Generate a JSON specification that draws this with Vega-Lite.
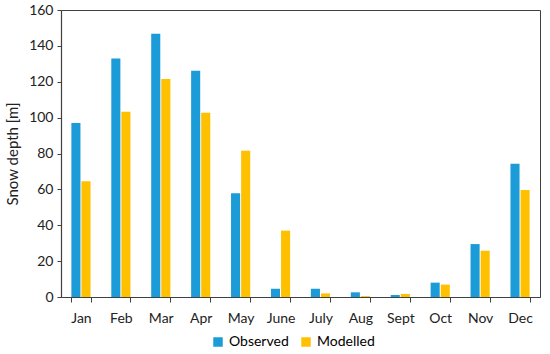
{
  "$schema": "https://vega.github.io/schema/vega-lite/v6.json",
  "width": 479,
  "height": 287,
  "autosize": {"type": "none"},
  "padding": {"left": 61, "top": 10, "right": 10, "bottom": 57},
  "background": "white",
  "config": {
    "font": "Lato",
    "view": {"stroke": "#404040", "strokeWidth": 1},
    "axis": {"labelFont": "Lato", "titleFont": "Lato", "labelColor": "#222", "titleColor": "#222", "domainColor": "#404040", "tickColor": "#404040"},
    "legend": {"labelFont": "Lato"}
  },
  "data": {
    "values": [
      {"month": "Jan", "series": "Observed", "value": 97},
      {"month": "Jan", "series": "Modelled", "value": 64.5},
      {"month": "Feb", "series": "Observed", "value": 133},
      {"month": "Feb", "series": "Modelled", "value": 103.3},
      {"month": "Mar", "series": "Observed", "value": 146.8},
      {"month": "Mar", "series": "Modelled", "value": 121.5},
      {"month": "Apr", "series": "Observed", "value": 126.1},
      {"month": "Apr", "series": "Modelled", "value": 102.7},
      {"month": "May", "series": "Observed", "value": 57.8},
      {"month": "May", "series": "Modelled", "value": 81.5},
      {"month": "June", "series": "Observed", "value": 4.6},
      {"month": "June", "series": "Modelled", "value": 37},
      {"month": "July", "series": "Observed", "value": 4.6},
      {"month": "July", "series": "Modelled", "value": 2},
      {"month": "Aug", "series": "Observed", "value": 2.6},
      {"month": "Aug", "series": "Modelled", "value": 0.5},
      {"month": "Sept", "series": "Observed", "value": 1.1},
      {"month": "Sept", "series": "Modelled", "value": 1.7},
      {"month": "Oct", "series": "Observed", "value": 8},
      {"month": "Oct", "series": "Modelled", "value": 6.9},
      {"month": "Nov", "series": "Observed", "value": 29.5},
      {"month": "Nov", "series": "Modelled", "value": 25.8},
      {"month": "Dec", "series": "Observed", "value": 74.3},
      {"month": "Dec", "series": "Modelled", "value": 59.6}
    ]
  },
  "mark": {"type": "bar"},
  "encoding": {
    "x": {
      "field": "month", "type": "nominal",
      "sort": ["Jan","Feb","Mar","Apr","May","June","July","Aug","Sept","Oct","Nov","Dec"],
      "scale": {"paddingInner": 0.52, "paddingOuter": 0.26},
      "axis": {"title": null, "labelAngle": 0, "labelFontSize": 14, "labelPadding": 9, "tickBand": "extent", "tickSize": 5, "domainWidth": 1.2}
    },
    "xOffset": {
      "field": "series", "type": "nominal",
      "sort": ["Observed", "Modelled"],
      "scale": {"paddingInner": 0.1}
    },
    "y": {
      "field": "value", "type": "quantitative",
      "scale": {"domain": [0, 160], "nice": false},
      "axis": {"title": "Snow depth [m]", "titleFontSize": 15, "titleFontWeight": "normal", "titlePadding": 8, "labelFontSize": 14, "values": [0,20,40,60,80,100,120,140,160], "grid": false, "tickSize": 4, "labelPadding": 4, "domainWidth": 1.2}
    },
    "color": {
      "field": "series", "type": "nominal",
      "sort": ["Observed", "Modelled"],
      "scale": {"domain": ["Observed", "Modelled"], "range": ["#1B9BD7", "#FFC000"]},
      "legend": {"title": null, "orient": "none", "legendX": 150, "legendY": 325, "direction": "horizontal", "symbolType": "square", "symbolSize": 90, "symbolStrokeWidth": 0, "labelFontSize": 14, "columnPadding": 10, "labelOffset": 4}
    }
  }
}
